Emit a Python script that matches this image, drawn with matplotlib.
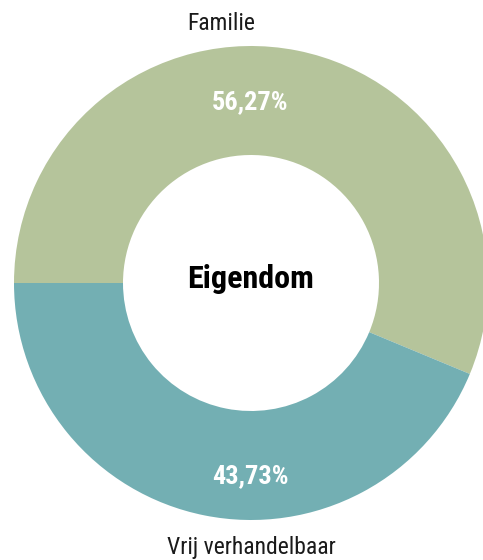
import matplotlib.pyplot as plt
from matplotlib import font_manager

categories = ["Familie", "Vrij verhandelbaar"]
values = [56.27, 43.73]
colors = ["#b5c49b", "#73afb3"]
center_title = "Eigendom"

names = {f.name for f in font_manager.fontManager.ttflist}
font = "Roboto Condensed" if "Roboto Condensed" in names else "Liberation Sans Narrow"
if font not in names:
    font = "DejaVu Sans"

fig = plt.figure(figsize=(4.83, 5.6), dpi=100)
ax = fig.add_axes([0, 0, 1, 1])

ax.pie(values, colors=colors, startangle=180, counterclock=False,
       center=(251, 277), radius=237,
       wedgeprops=dict(width=109, linewidth=0))
ax.set_xlim(0, 483)
ax.set_ylim(0, 560)
ax.axis("off")


def pct(v):
    return f"{v:.2f}".replace(".", ",") + "%"


style = dict(ha="center", va="baseline", family=font)
ax.text(221, 530, categories[0], fontsize=17, color="#1a1a1a", **style)
ax.text(251, 6, categories[1], fontsize=17, color="#1a1a1a", **style)
ax.text(250, 451, pct(values[0]), fontsize=19, fontweight="bold",
        color="white", **style)
ax.text(250.5, 77, pct(values[1]), fontsize=19, fontweight="bold",
        color="white", **style)
ax.text(250.5, 272, center_title, fontsize=23, fontweight="bold",
        color="black", **style)

plt.savefig("out.png", dpi=100)
plt.close()
